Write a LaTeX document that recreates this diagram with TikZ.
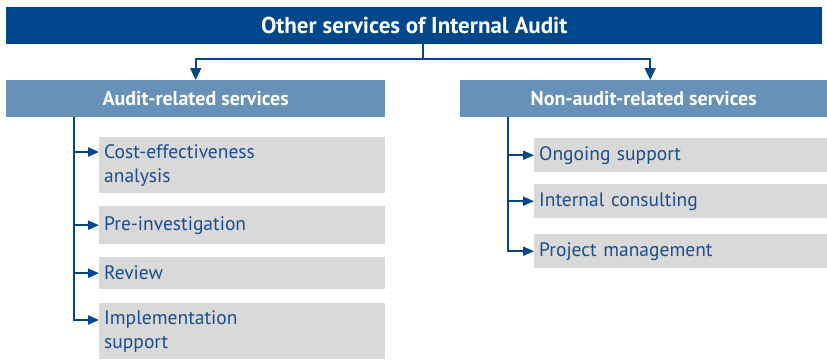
\documentclass[tikz,border=0pt]{standalone}
\usepackage{fontspec}
\setmainfont{PT Sans}
\usetikzlibrary{arrows.meta}
\definecolor{darkblue}{HTML}{00468A}
\definecolor{midblue}{HTML}{6891BA}
\definecolor{boxgray}{HTML}{D9D9D9}
\definecolor{txtblue}{HTML}{1A4E8E}
\tikzset{
  titlebox/.style={fill=darkblue, text=white, font=\fontsize{23}{26}\selectfont\bfseries, anchor=north west, minimum width=816pt, minimum height=37pt, inner sep=0pt},
  headbox/.style={fill=midblue, text=white, font=\fontsize{20}{23}\selectfont\bfseries, anchor=north west, minimum height=37pt, inner sep=0pt},
  itembox/.style={fill=boxgray, text=txtblue, font=\fontsize{19.5}{24}\selectfont, anchor=north west, align=left, inner xsep=5pt, inner ysep=0pt},
  conn/.style={draw=darkblue, line width=1.8pt},
  arr/.style={conn, -{Triangle[length=11pt,width=9pt]}},
  bigarr/.style={conn, -{Triangle[length=12pt,width=11pt]}}
}
\begin{document}
\begin{tikzpicture}[x=1pt,y=-1pt]
\useasboundingbox (0,0) rectangle (827,359);
\node[titlebox] (top) at (6,7) {Other services of Internal Audit};
\node[headbox, minimum width=379pt] (aud) at (6,80) {Audit-related services};
\node[headbox, minimum width=367pt] (non) at (460,80) {Non-audit-related services};
% left items
\node[itembox, text width=276pt, minimum height=56pt] (a1) at (99,137) {Cost-effectiveness\\analysis};
\node[itembox, text width=276pt, minimum height=38pt] (a2) at (99,206) {Pre-investigation};
\node[itembox, text width=276pt, minimum height=32pt] (a3) at (99,257) {Review};
\node[itembox, text width=276pt, minimum height=56pt] (a4) at (99,303) {Implementation\\support};
% right items
\node[itembox, text width=283pt, minimum height=34pt] (n1) at (534,138) {Ongoing support};
\node[itembox, text width=283pt, minimum height=34pt] (n2) at (534,184) {Internal consulting};
\node[itembox, text width=283pt, minimum height=34pt] (n3) at (534,234) {Project management};
% top connectors
\coordinate (j) at (423,59);
\draw[conn] (top.south -| j) -- (j);
\draw[bigarr] (j) -| (aud.north);
\draw[bigarr] (j) -| ([xshift=6.5pt]non.north);
% left spine
\coordinate (ls) at (74,0);
\draw[arr] (aud.south -| ls) |- ([yshift=-15pt]a1.north west);
\draw[arr] (aud.south -| ls) |- (a2.west);
\draw[arr] (aud.south -| ls) |- (a3.west);
\draw[arr] (aud.south -| ls) |- ([yshift=-17pt]a4.north west);
% right spine
\coordinate (rs) at (508,0);
\draw[arr] (non.south -| rs) |- (n1.west);
\draw[arr] (non.south -| rs) |- (n2.west);
\draw[arr] (non.south -| rs) |- (n3.west);
\end{tikzpicture}
\end{document}
